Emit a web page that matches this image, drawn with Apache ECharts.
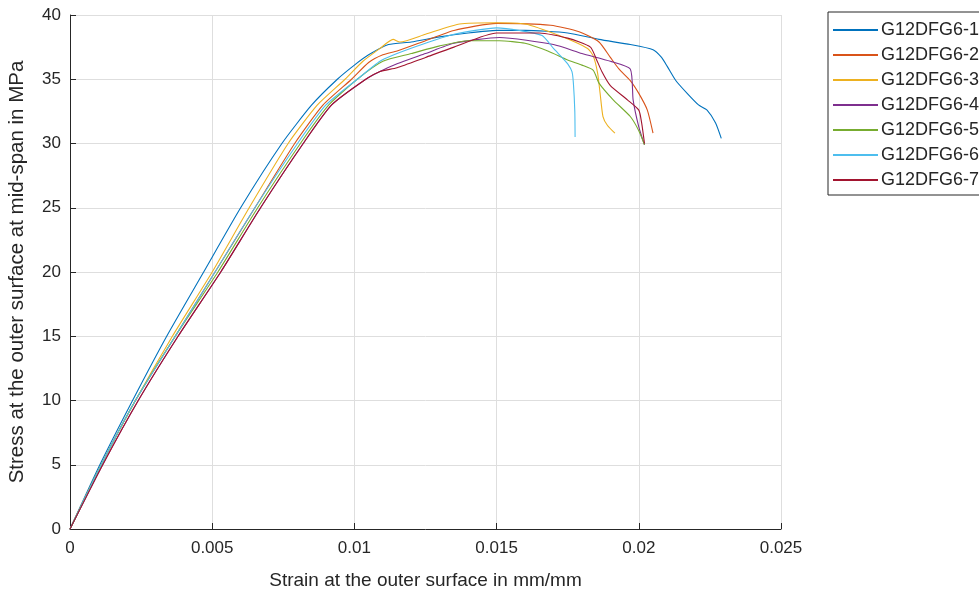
<!DOCTYPE html>
<html>
<head>
<meta charset="utf-8">
<title>Stress-strain</title>
<script src="https://cdn.jsdelivr.net/npm/echarts@6/dist/echarts.min.js"></script>
<style>
  html, body { margin: 0; padding: 0; background: #fff; }
  #main { width: 979px; height: 593px; }
</style>
</head>
<body>
<div id="main"></div>
<script>
// specimen names (legend)
const names = ['G12DFG6-1', 'G12DFG6-2', 'G12DFG6-3', 'G12DFG6-4', 'G12DFG6-5', 'G12DFG6-6', 'G12DFG6-7']
const colors = ['#0072BD', '#D95319', '#EDB120', '#7E2F8E', '#77AC30', '#4DBEEE', '#A2142F']

// [strain mm/mm, stress MPa]
const g1 = [[0,0],[0.00105,5],[0.0022,10],[0.0034,15],[0.0047,20],[0.006,25],[0.00745,30],[0.0085,33],[0.0094,35],[0.01,36.1],[0.0105,36.9],[0.0112,37.7],[0.012,37.9],[0.013,38.3],[0.014,38.6],[0.015,38.8],[0.016,38.8],[0.0175,38.6],[0.0186,38.1],[0.0197,37.7],[0.0205,37.3],[0.0208,36.7],[0.021,36.0],[0.0213,34.9],[0.0217,33.9],[0.0221,33.0],[0.0224,32.6],[0.0227,31.6],[0.0229,30.4]]
const g2 = [[0,0],[0.0011,5],[0.0023,10],[0.0037,15],[0.0051,20],[0.0065,25],[0.0079,30],[0.0089,33],[0.0099,35],[0.0105,36.3],[0.011,36.9],[0.0115,37.2],[0.0125,38.0],[0.0135,38.8],[0.015,39.35],[0.0169,39.2],[0.0179,38.7],[0.0186,37.9],[0.019,36.7],[0.0193,35.8],[0.0197,34.9],[0.02,33.9],[0.0203,32.6],[0.0205,30.8]]
const g3 = [[0,0],[0.0011,5],[0.0023,10],[0.0036,15],[0.005,20],[0.0063,25],[0.00767,30],[0.0087,33],[0.00967,35],[0.0103,36.4],[0.0109,37.4],[0.01136,38.1],[0.0116,37.9],[0.0125,38.5],[0.0137,39.3],[0.015,39.4],[0.016,39.3],[0.0172,38.4],[0.0182,37.4],[0.0184,36.8],[0.01855,35.5],[0.01864,33.9],[0.01874,32.1],[0.0189,31.4],[0.01916,30.8]]
const g4 = [[0,0],[0.00115,5],[0.0024,10],[0.0038,15],[0.0053,20],[0.0067,25],[0.0082,30],[0.0092,33],[0.0104,35],[0.0109,35.6],[0.0115,36.2],[0.0125,37.0],[0.0135,37.8],[0.0151,38.25],[0.017,37.7],[0.018,37.0],[0.019,36.4],[0.0197,35.8],[0.0198,33.4],[0.02,31.3],[0.0202,29.9]]
const g5 = [[0,0],[0.0011,5],[0.0023,10],[0.0037,15],[0.0052,20],[0.0066,25],[0.0081,30],[0.0091,33],[0.0101,35],[0.011,36.4],[0.012,37.0],[0.013,37.6],[0.014,38.0],[0.0151,38.0],[0.016,37.8],[0.0168,37.2],[0.0175,36.5],[0.018,36.1],[0.0184,35.7],[0.0186,34.7],[0.0191,33.4],[0.0197,32.1],[0.02,31.0],[0.0202,29.9]]
const g6 = [[0,0],[0.0011,5],[0.0023,10],[0.0037,15],[0.0051,20],[0.0065,25],[0.008,30],[0.009,33],[0.0101,35],[0.0109,36.4],[0.0115,37.0],[0.0125,37.8],[0.0135,38.5],[0.015,39.0],[0.0158,38.8],[0.0166,38.4],[0.017,37.4],[0.0173,36.7],[0.0175,36.2],[0.01765,35.6],[0.0177,34.7],[0.01775,32.5],[0.01776,30.5]]
const g7 = [[0,0],[0.00115,5],[0.0024,10],[0.0038,15],[0.0053,20],[0.0067,25],[0.0082,30],[0.0092,33],[0.0104,35],[0.0109,35.6],[0.0115,35.9],[0.0125,36.7],[0.0135,37.5],[0.015,38.6],[0.0165,38.6],[0.0175,38.2],[0.0183,37.5],[0.0185,36.6],[0.0187,35.6],[0.019,34.5],[0.0196,33.4],[0.02,32.6],[0.0201,31.6],[0.0202,30.0]]
const curves = [g1, g2, g3, g4, g5, g6, g7]

const xTicks = ['0', '0.005', '0.01', '0.015', '0.02', '0.025']

const chartDom = document.getElementById('main')
const myChart = echarts.init(chartDom)

const axisColor = '#262626'
const gridColor = '#dedede'

const option = {
  animation: false,
  backgroundColor: '#fff',
  textStyle: { fontFamily: 'Liberation Sans, Arial, sans-serif' },
  grid: { left: 70, right: 198, top: 15, bottom: 64, containLabel: false, outerBoundsMode: 'none' },
  legend: {
    orient: 'vertical',
    left: 828,
    top: 12,
    padding: [9, 40, 6, 5],
    icon: 'rect',
    itemWidth: 45,
    itemHeight: 2,
    itemGap: 7,
    borderColor: axisColor,
    borderWidth: 1,
    backgroundColor: '#fff',
    textStyle: { fontSize: 18, color: axisColor, padding: [0, 0, 0, -2] },
    data: names
  },
  xAxis: {
    type: 'value',
    min: 0,
    max: 0.025,
    interval: 0.005,
    name: 'Strain at the outer surface in mm/mm',
    nameLocation: 'middle',
    nameGap: 42,
    nameTextStyle: { fontSize: 19, color: axisColor },
    axisLine: { lineStyle: { color: axisColor, width: 1 } },
    axisTick: { inside: true, length: 6, lineStyle: { color: axisColor } },
    axisLabel: {
      fontSize: 17,
      color: axisColor,
      margin: 11,
      formatter: (v) => xTicks[Math.round(v / 0.005)]
    },
    splitLine: { show: true, lineStyle: { color: gridColor, width: 1 } }
  },
  yAxis: {
    type: 'value',
    min: 0,
    max: 40,
    interval: 5,
    name: 'Stress at the outer surface at mid-span in MPa',
    nameLocation: 'middle',
    nameGap: 42,
    nameTextStyle: { fontSize: 20.5, color: axisColor },
    axisLine: { show: true, lineStyle: { color: axisColor, width: 1 } },
    axisTick: { show: true, inside: true, length: 6, lineStyle: { color: axisColor } },
    axisLabel: { fontSize: 17, color: axisColor, margin: 9 },
    splitLine: { show: true, lineStyle: { color: gridColor, width: 1 } }
  },
  series: names.map((n, i) => ({
    name: n,
    type: 'line',
    symbol: 'none',
    smooth: 0.2,
    color: colors[i],
    lineStyle: { width: 1.1, color: colors[i] },
    data: curves[i]
  }))
}

myChart.setOption(option)
window.addEventListener('resize', () => {
  myChart.resize()
})
</script>
</body>
</html>
